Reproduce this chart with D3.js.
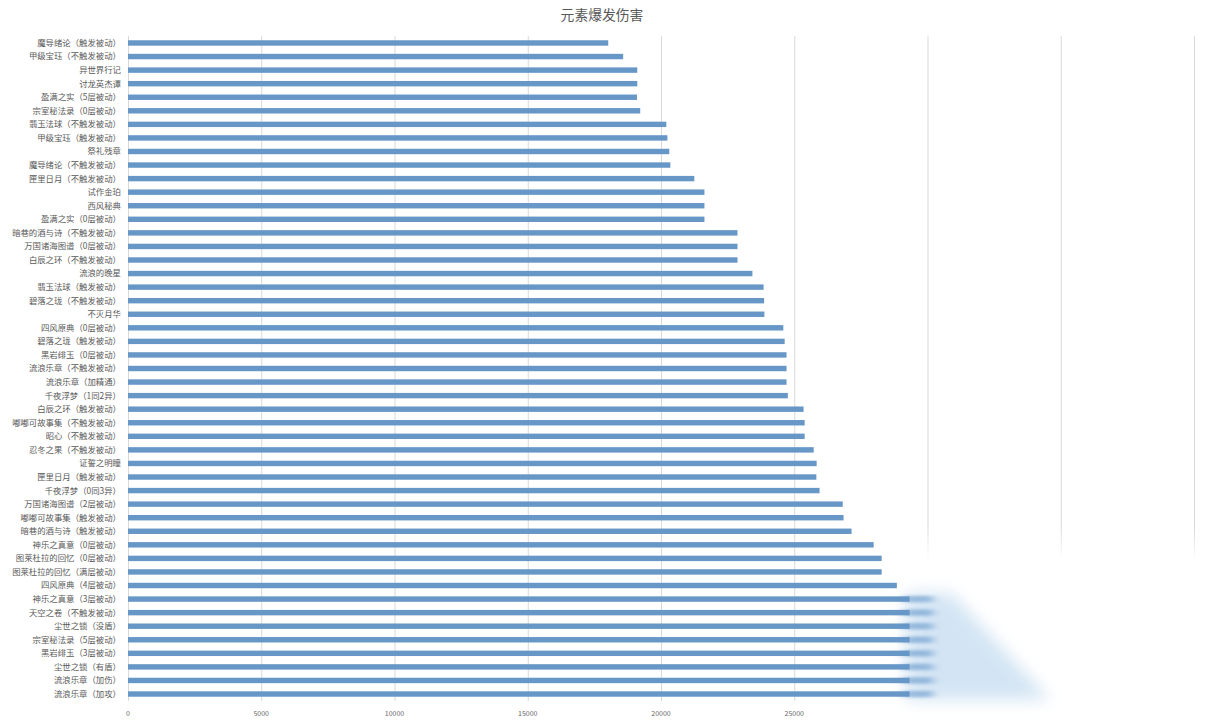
<!DOCTYPE html>
<html><head><meta charset="utf-8">
<script src="https://cdn.jsdelivr.net/npm/d3@7"></script>
<style>
html,body{margin:0;padding:0;background:#fff;}
svg{display:block;font-family:"Noto Sans CJK SC","Noto Sans",sans-serif;}
</style></head>
<body><svg id="c" width="1210" height="724"></svg>
<script>
const title = "元素爆发伤害";
const categories = [
"魔导绪论（触发被动）","甲级宝珏（不触发被动）","异世界行记","讨龙英杰谭","盈满之实（5层被动）",
"宗室秘法录（0层被动）","翡玉法球（不触发被动）","甲级宝珏（触发被动）","祭礼残章","魔导绪论（不触发被动）",
"匣里日月（不触发被动）","试作金珀","西风秘典","盈满之实（0层被动）","暗巷的酒与诗（不触发被动）",
"万国诸海图谱（0层被动）","白辰之环（不触发被动）","流浪的晚星","翡玉法球（触发被动）","碧落之珑（不触发被动）",
"不灭月华","四风原典（0层被动）","碧落之珑（触发被动）","黑岩绯玉（0层被动）","流浪乐章（不触发被动）",
"流浪乐章（加精通）","千夜浮梦（1同2异）","白辰之环（触发被动）","嘟嘟可故事集（不触发被动）","昭心（不触发被动）",
"忍冬之果（不触发被动）","证誓之明瞳","匣里日月（触发被动）","千夜浮梦（0同3异）","万国诸海图谱（2层被动）",
"嘟嘟可故事集（触发被动）","暗巷的酒与诗（触发被动）","神乐之真意（0层被动）","图莱杜拉的回忆（0层被动）","图莱杜拉的回忆（满层被动）",
"四风原典（4层被动）","神乐之真意（3层被动）","天空之卷（不触发被动）","尘世之锁（没盾）","宗室秘法录（5层被动）",
"黑岩绯玉（3层被动）","尘世之锁（有盾）","流浪乐章（加伤）","流浪乐章（加攻）"
];
const values = [
18020,18580,19110,19110,19100,
19220,20200,20240,20310,20350,
21250,21630,21630,21630,22870,
22870,22870,23430,23850,23870,
23880,24590,24640,24710,24710,
24710,24760,25350,25390,25390,
25730,25840,25830,25950,26820,
26850,27150,27980,28280,28280,
28850,29330,29330,29330,29330,
29330,29330,29330,29330
];
const tickValues = [0,5000,10000,15000,20000,25000,30000,35000,40000];
const tickLabels = ["0","5000","10000","15000","20000","25000","","",""];
const xMax = 40000;

const svg = d3.select("#c");
const x = d3.scaleLinear().domain([0,xMax]).range([128,1194]);
const y = d3.scaleBand().domain(categories).range([36.2,700.8]).paddingInner(0.6).paddingOuter(0.3);

const defs = svg.append("defs");
const lg = defs.append("linearGradient").attr("id","gfade").attr("gradientUnits","userSpaceOnUse")
  .attr("x1",0).attr("y1",36).attr("x2",0).attr("y2",700);
lg.append("stop").attr("offset","0.74").attr("stop-color","#d9d9d9").attr("stop-opacity",1);
lg.append("stop").attr("offset","0.79").attr("stop-color","#d9d9d9").attr("stop-opacity",0);
const blur = defs.append("filter").attr("id","bl").attr("x","-30%").attr("y","-30%").attr("width","160%").attr("height","160%");
blur.append("feGaussianBlur").attr("stdDeviation",8);
const blur2 = defs.append("filter").attr("id","bl2").attr("x","-80%").attr("y","-100%").attr("width","260%").attr("height","300%");
blur2.append("feGaussianBlur").attr("stdDeviation","5 1.5");

svg.append("text").attr("x",602).attr("y",20).attr("text-anchor","middle")
  .attr("font-size",13.8).attr("fill","#595959").text(title);

svg.append("g").selectAll("line").data(tickValues).join("line")
  .attr("x1",d=>x(d)+0.5).attr("x2",d=>x(d)+0.5)
  .attr("y1",36).attr("y2",701)
  .attr("stroke",d=>d>25000?"url(#gfade)":"#d9d9d9").attr("stroke-width",1);

svg.append("g").selectAll("text").data(tickValues).join("text")
  .attr("x",d=>x(d)).attr("y",716).attr("text-anchor","middle")
  .attr("font-size",7).attr("fill","#666")
  .text((d,i)=>tickLabels[i]);

const last = categories.slice(41);
const yTop = y(last[0]) - 3, yBot = y(last[last.length-1]) + y.bandwidth() + 3;
svg.append("path")
  .attr("d", d3.line()([[x(29200),yTop],[x(30900),yTop],[x(34600),yBot],[x(29200),yBot]]) + "Z")
  .attr("fill","#cfe2f3").attr("opacity",0.9).attr("filter","url(#bl)");
svg.append("g").selectAll("rect").data(last).join("rect")
  .attr("x",x(29100)).attr("y",d=>y(d)-0.5)
  .attr("width",x(30200)-x(29100)).attr("height",y.bandwidth()+1)
  .attr("fill","#7fa9d4").attr("opacity",0.75).attr("filter","url(#bl2)");

svg.append("g").selectAll("rect").data(values).join("rect")
  .attr("x",x(0)).attr("y",(d,i)=>y(categories[i]))
  .attr("width",d=>x(d)-x(0)).attr("height",y.bandwidth())
  .attr("fill","#6797c7");

svg.append("g").selectAll("text").data(categories).join("text")
  .attr("x",121).attr("y",d=>y(d)+y.bandwidth()/2).attr("dy","0.35em")
  .attr("text-anchor","end").attr("font-size",8.4).attr("fill","#595959")
  .text(d=>d);
</script></body></html>
